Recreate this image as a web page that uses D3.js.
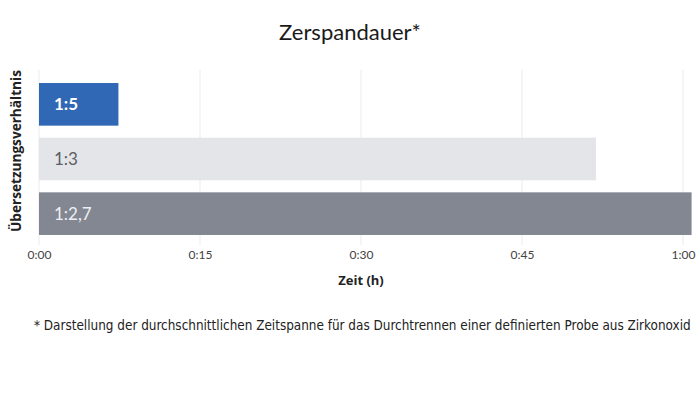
<!DOCTYPE html>
<html>
<head>
<meta charset="utf-8">
<script src="https://cdn.jsdelivr.net/npm/d3@7"></script>
<style>
  body { margin: 0; background: #fff; }
  svg { display: block; font-family: Lato, "Open Sans", sans-serif; }
</style>
</head>
<body>
<svg id="chart"></svg>
<script>
// ratios and cutting time in minutes
const ratios = ["1:5", "1:3", "1:2,7"];
const minutes = [7.4, 51.9, 60.8];
const barColors = ["#3168b5", "#e4e5e9", "#828792"];
const labelColors = ["#ffffff", "#5a5d63", "#eeeff2"];
const tickValues = [0, 15, 30, 45, 60];
const tickLabels = ["0:00", "0:15", "0:30", "0:45", "1:00"];

const width = 700, height = 393;
const margin = { top: 71, right: 17, bottom: 146, left: 39 };

const svg = d3.select("#chart").attr("width", width).attr("height", height);

const x = d3.scaleLinear()
  .domain([0, 60])
  .range([margin.left, width - margin.right]);

const y = d3.scaleBand()
  .domain(ratios)
  .range([margin.top, height - margin.bottom])
  .paddingInner(0.22)
  .paddingOuter(0.22);

// gridlines
svg.append("g")
  .selectAll("line")
  .data(tickValues)
  .join("line")
  .attr("x1", d => x(d))
  .attr("x2", d => x(d))
  .attr("y1", margin.top - 1)
  .attr("y2", 245)
  .attr("stroke", "#ebebeb")
  .attr("stroke-width", 1);

// bars
const data = ratios.map((r, i) => ({ r, v: minutes[i], i }));

svg.append("g")
  .selectAll("rect")
  .data(data)
  .join("rect")
  .attr("x", x(0))
  .attr("y", d => y(d.r))
  .attr("width", d => x(d.v) - x(0))
  .attr("height", y.bandwidth())
  .attr("fill", d => barColors[d.i]);

svg.append("g")
  .selectAll("text")
  .data(data)
  .join("text")
  .attr("x", x(0) + 15)
  .attr("y", d => y(d.r) + y.bandwidth() / 2)
  .attr("dy", "0.36em")
  .attr("fill", d => labelColors[d.i])
  .style("font-size", "17px")
  .style("font-weight", d => d.i == 0 ? "bold" : "normal")
  .text(d => d.r);

// x axis tick labels
const xAxis = d3.axisBottom(x)
  .tickValues(tickValues)
  .tickFormat((d, i) => tickLabels[i])
  .tickSize(0)
  .tickPadding(0);

svg.append("g")
  .attr("transform", "translate(0,250)")
  .call(xAxis)
  .call(g => g.select(".domain").remove())
  .call(g => g.selectAll("text")
    .attr("fill", "#444")
    .style("font-size", "12px")
    .style("font-family", "Lato, 'Open Sans', sans-serif"));

// axis titles
svg.append("text")
  .attr("x", x(30))
  .attr("y", 285)
  .attr("text-anchor", "middle")
  .style("font-family", "'Open Sans', sans-serif")
  .style("font-size", "13px")
  .style("font-weight", "bold")
  .attr("fill", "#222")
  .text("Zeit (h)");

svg.append("text")
  .attr("transform", `translate(21,151) rotate(-90)`)
  .attr("text-anchor", "middle")
  .attr("textLength", 162)
  .attr("lengthAdjust", "spacingAndGlyphs")
  .style("font-family", "'Open Sans', sans-serif")
  .style("font-size", "14px")
  .style("font-weight", "bold")
  .attr("fill", "#222")
  .text("Übersetzungsverhältnis");

// title
svg.append("text")
  .attr("x", width / 2)
  .attr("y", 40)
  .attr("text-anchor", "middle")
  .style("font-size", "22px")
  .attr("fill", "#1a1a1a")
  .text("Zerspandauer*");

// footnote
svg.append("text")
  .attr("x", 34)
  .attr("y", 330)
  .style("font-family", "'Liberation Sans Narrow', 'DejaVu Sans Condensed', sans-serif")
  .style("font-size", "13.4px")
  .attr("fill", "#222")
  .text("* Darstellung der durchschnittlichen Zeitspanne für das Durchtrennen einer definierten Probe aus Zirkonoxid");
</script>
</body>
</html>
